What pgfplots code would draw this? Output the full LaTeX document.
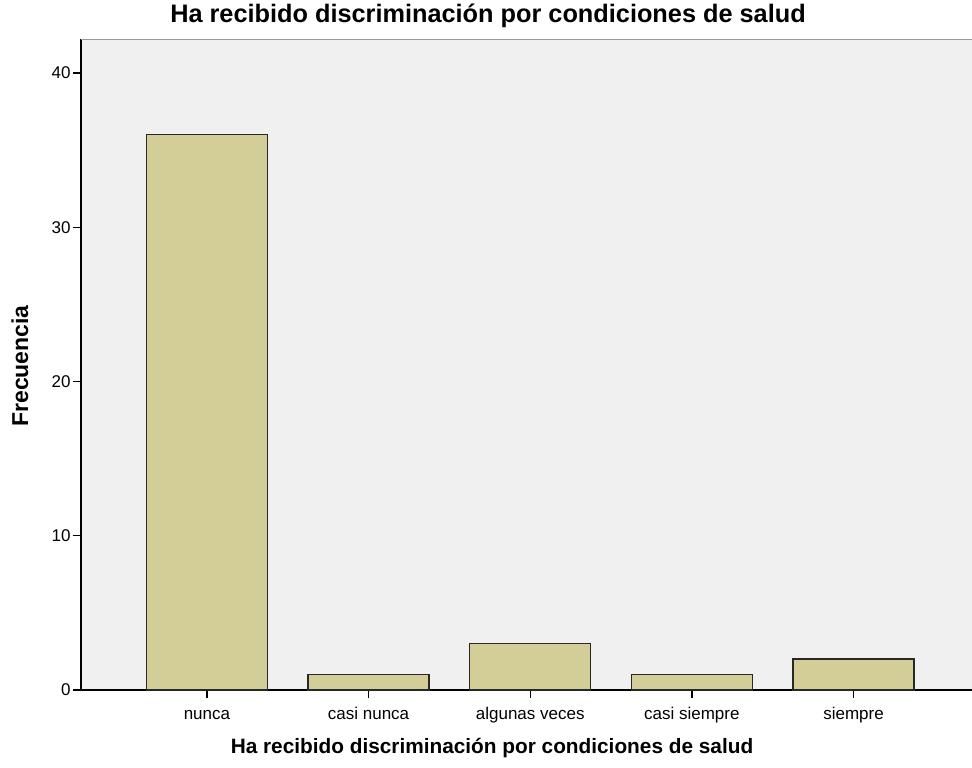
\documentclass[border=0pt]{standalone}
\usepackage{pgfplots}
\pgfplotsset{compat=1.18}
\usepackage{fontspec}
\setmainfont{Liberation Sans}
\definecolor{plotbg}{RGB}{240,240,240}
\definecolor{barfill}{RGB}{211,206,151}
\definecolor{baredge}{RGB}{40,40,40}

\begin{document}
\begin{tikzpicture}[x=1pt,y=1pt]
\begin{axis}[
    at={(81pt,-690pt)}, anchor=south west,
    scale only axis,
    width=891pt, height=651pt,
    xmin=-0.779, xmax=4.733,
    ymin=0, ymax=42.2,
    axis x line*=bottom, axis y line*=left,
    axis line style={black, line width=1.2pt},
    axis background/.style={fill=plotbg},
    ybar, bar width=0.748,
    xtick=data,
    xticklabels={nunca, casi nunca, algunas veces, casi siempre, siempre},
    ytick={0,10,20,30,40},
    xtick align=outside, ytick align=outside,
    major tick length=8pt,
    tick style={black, line width=1.3pt},
    ticklabel style={font=\fontsize{17}{20}\selectfont},
    xticklabel style={yshift=-6pt, text height=12pt, text depth=4pt},
    yticklabel style={xshift=1pt},
    /pgf/number format/assume math mode=true,
]
\addplot[fill=barfill, draw=baredge, line width=1.4pt] coordinates {
    (0,36) (1,1) (2,3) (3,1) (4,2)
};
\draw[gray!80, line width=1.5pt] (rel axis cs:0,1) -- (rel axis cs:1,1);
\end{axis}
\node[font=\bfseries\fontsize{25.3}{28}\selectfont] at (488,-16) {Ha recibido discriminación por condiciones de salud};
\node[font=\bfseries\fontsize{20.8}{24}\selectfont] at (492,-748) {Ha recibido discriminación por condiciones de salud};
\node[font=\bfseries\fontsize{23}{26}\selectfont, rotate=90] at (20,-366) {Frecuencia};
\pgfresetboundingbox
\useasboundingbox (0,0) rectangle (972,-768);
\end{tikzpicture}
\end{document}
